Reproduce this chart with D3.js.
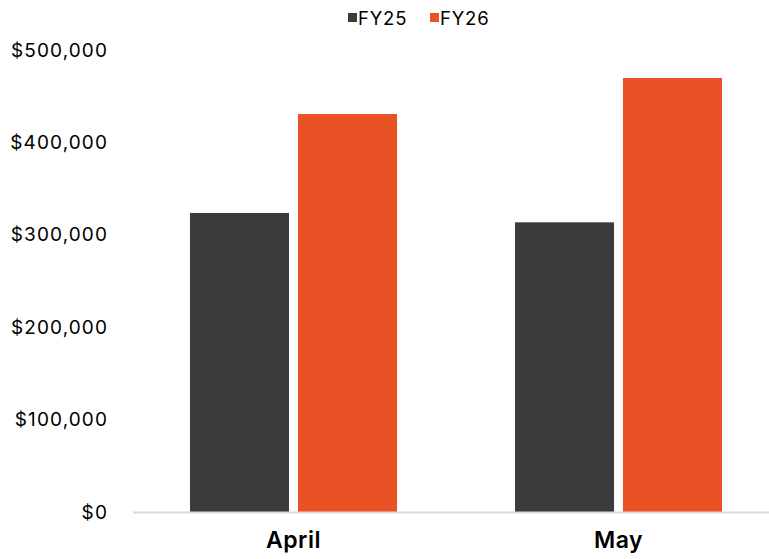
<!DOCTYPE html>
<html>
<head>
<meta charset="utf-8">
<script src="https://cdn.jsdelivr.net/npm/d3@7"></script>
<style>
  body { margin: 0; background: #fff; }
  text { font-family: Inter, "Open Sans", sans-serif; fill: #000; }
</style>
</head>
<body>
<figure id="chart" style="margin:0"></figure>
<script>
// data
var months = ["April", "May"];
var seriesNames = ["FY25", "FY26"];
var fy25 = [323600, 313500];
var fy26 = [430700, 469700];
var yTicks = [0, 100000, 200000, 300000, 400000, 500000];
var colors = ["#3a3b3a", "#e85225"];

var width = 769, height = 559;

var svg = d3.select("figure#chart")
  .append("svg")
  .attr("width", width)
  .attr("height", height);

// rows for the grouped bars
var rows = months.map(function(m, i) {
  return { month: m, FY25: fy25[i], FY26: fy26[i] };
});

// scales
var x0 = d3.scaleBand()
  .domain(months)
  .range([131, 781])
  .paddingInner(0.363)
  .paddingOuter(0.1815);

var x1 = d3.scaleBand()
  .domain(seriesNames)
  .range([0, x0.bandwidth()])
  .paddingInner(0.083);

var y = d3.scaleLinear()
  .domain([0, 500000])
  .range([512, 50]);

var color = d3.scaleOrdinal().domain(seriesNames).range(colors);

// y axis labels (no line, no ticks)
var yAxis = svg.append("g")
  .attr("transform", "translate(108,0)")
  .call(d3.axisLeft(y).tickValues(yTicks).tickSize(0).tickPadding(0)
    .tickFormat(function(d) { return "$" + d3.format(",")(d); }));
yAxis.select(".domain").remove();
yAxis.selectAll("text")
  .attr("font-size", 19)
  .attr("font-family", "Inter, sans-serif")
  .attr("letter-spacing", 1.1)
  .attr("fill", "#000");

// bars
var groups = svg.selectAll("g.month")
  .data(rows)
  .enter()
  .append("g")
  .attr("class", "month")
  .attr("transform", function(d) { return "translate(" + x0(d.month) + ",0)"; });

groups.selectAll("rect")
  .data(function(d) { return seriesNames.map(function(k) { return { key: k, value: d[k] }; }); })
  .enter()
  .append("rect")
  .attr("x", function(d) { return x1(d.key); })
  .attr("y", function(d) { return y(d.value); })
  .attr("width", x1.bandwidth())
  .attr("height", function(d) { return y(0) - y(d.value); })
  .attr("fill", function(d) { return color(d.key); });

// x axis line + labels
var xAxis = svg.append("g")
  .attr("transform", "translate(0," + y(0) + ")")
  .call(d3.axisBottom(x0).tickSize(0).tickPadding(20));
xAxis.select(".domain")
  .attr("stroke", "#d9d9d9")
  .attr("stroke-width", 2)
  .attr("d", "M133,0.5H769");
xAxis.selectAll("text")
  .attr("font-size", 23)
  .attr("font-weight", 600)
  .attr("font-family", "Inter, sans-serif")
  .attr("letter-spacing", 0.5)
  .attr("fill", "#000");

// legend
var legendX = [348, 430];
var legend = svg.selectAll("g.legend")
  .data(seriesNames)
  .enter()
  .append("g")
  .attr("class", "legend")
  .attr("transform", function(d, i) { return "translate(" + legendX[i] + ",0)"; });

legend.append("rect")
  .attr("y", 13)
  .attr("width", 9)
  .attr("height", 9)
  .attr("fill", function(d) { return color(d); });

legend.append("text")
  .attr("x", 10)
  .attr("y", 25)
  .attr("font-size", 18.5)
  .attr("letter-spacing", 0.8)
  .text(function(d) { return d; });
</script>
</body>
</html>
